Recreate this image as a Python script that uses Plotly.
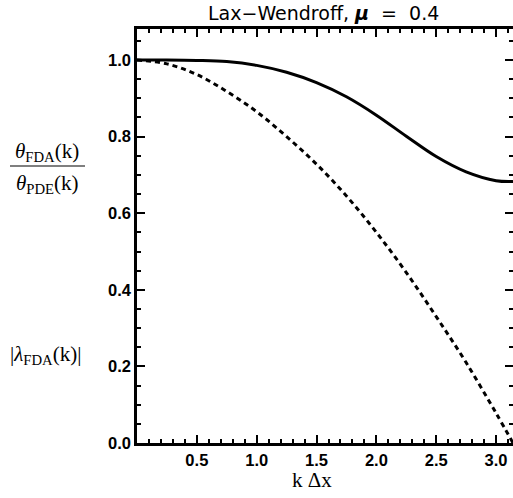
import numpy as np
import plotly.graph_objects as go

# Values
k_dx = [0.0, 0.25, 0.5, 0.75, 1.0, 1.25, 1.5, 1.75, 2.0, 2.25, 2.5, 2.75, 3.0, 3.1416]
amp_ratio = [1.0, 1.0, 0.999, 0.996, 0.986, 0.968, 0.941, 0.904, 0.856, 0.801, 0.748, 0.708, 0.685, 0.683]
phase_ratio = [1.0, 0.99, 0.962, 0.918, 0.865, 0.80, 0.728, 0.645, 0.55, 0.445, 0.33, 0.21, 0.078, 0.0]

x_ticks = [0.5, 1.0, 1.5, 2.0, 2.5, 3.0]
y_ticks = [0.0, 0.2, 0.4, 0.6, 0.8, 1.0]

L, R, T, B = 137, 0, 29, 55
W, H = 513, 498
pw, ph = W - L - R, H - T - B

def px(xp):
    return (xp - L) / pw

def py(yp):
    return (H - B - yp) / ph

fig = go.Figure()
fig.add_trace(go.Scatter(x=k_dx, y=amp_ratio, mode="lines", line=dict(color="black", width=3, shape="spline"), showlegend=False))
fig.add_trace(go.Scatter(x=k_dx, y=phase_ratio, mode="lines", line=dict(color="black", width=3, dash="5px,4px", shape="spline"), showlegend=False))

tickfont = dict(family="Liberation Sans", size=16.5, color="black", weight="bold")
axis_common = dict(
    showgrid=False, zeroline=False, showline=True, linecolor="black", linewidth=2.5,
    mirror="ticks", ticks="inside", ticklen=8, tickwidth=2, tickcolor="black",
    tickfont=tickfont,
)
fig.update_xaxes(range=[0, np.pi], tickvals=x_ticks, ticktext=[f"{v:.1f}" for v in x_ticks],
                 minor=dict(ticks="inside", ticklen=4, tickwidth=2, tickcolor="black", dtick=0.1, tick0=0),
                 **axis_common)
fig.update_yaxes(range=[0, 1.081], tickvals=y_ticks, ticktext=[f"{v:.1f}" for v in y_ticks],
                 minor=dict(ticks="inside", ticklen=4, tickwidth=2, tickcolor="black", dtick=0.05, tick0=0),
                 **axis_common)

serif = "Liberation Serif"
ann = [
    dict(text="Lax\u2212Wendroff, <b><i>\u03bc</i></b>\u00a0\u00a0=\u00a0\u00a00.4", x=px(323), y=py(13),
         font=dict(family="DejaVu Sans", size=19, color="black")),
    dict(text="<i>\u03b8</i><sub>FDA</sub>(k)", x=px(47), y=py(152),
         font=dict(family=serif, size=21, color="black")),
    dict(text="<i>\u03b8</i><sub>PDE</sub>(k)", x=px(47), y=py(184),
         font=dict(family=serif, size=21, color="black")),
    dict(text="|<i>\u03bb</i><sub>FDA</sub>(k)|", x=px(45), y=py(355),
         font=dict(family=serif, size=21, color="black")),
    dict(text="k \u0394x", x=px(312), y=py(480),
         font=dict(family=serif, size=21, color="black")),
]
for a in ann:
    fig.add_annotation(xref="paper", yref="paper", showarrow=False, xanchor="center", yanchor="middle", **a)

fig.add_shape(type="line", xref="paper", yref="paper", x0=px(10), x1=px(85), y0=py(166), y1=py(166),
              line=dict(color="black", width=1.2))

fig.update_layout(width=W, height=H, margin=dict(l=L, r=R, t=T, b=B, autoexpand=False),
                  plot_bgcolor="white", paper_bgcolor="white")
fig.write_html("out.html")
